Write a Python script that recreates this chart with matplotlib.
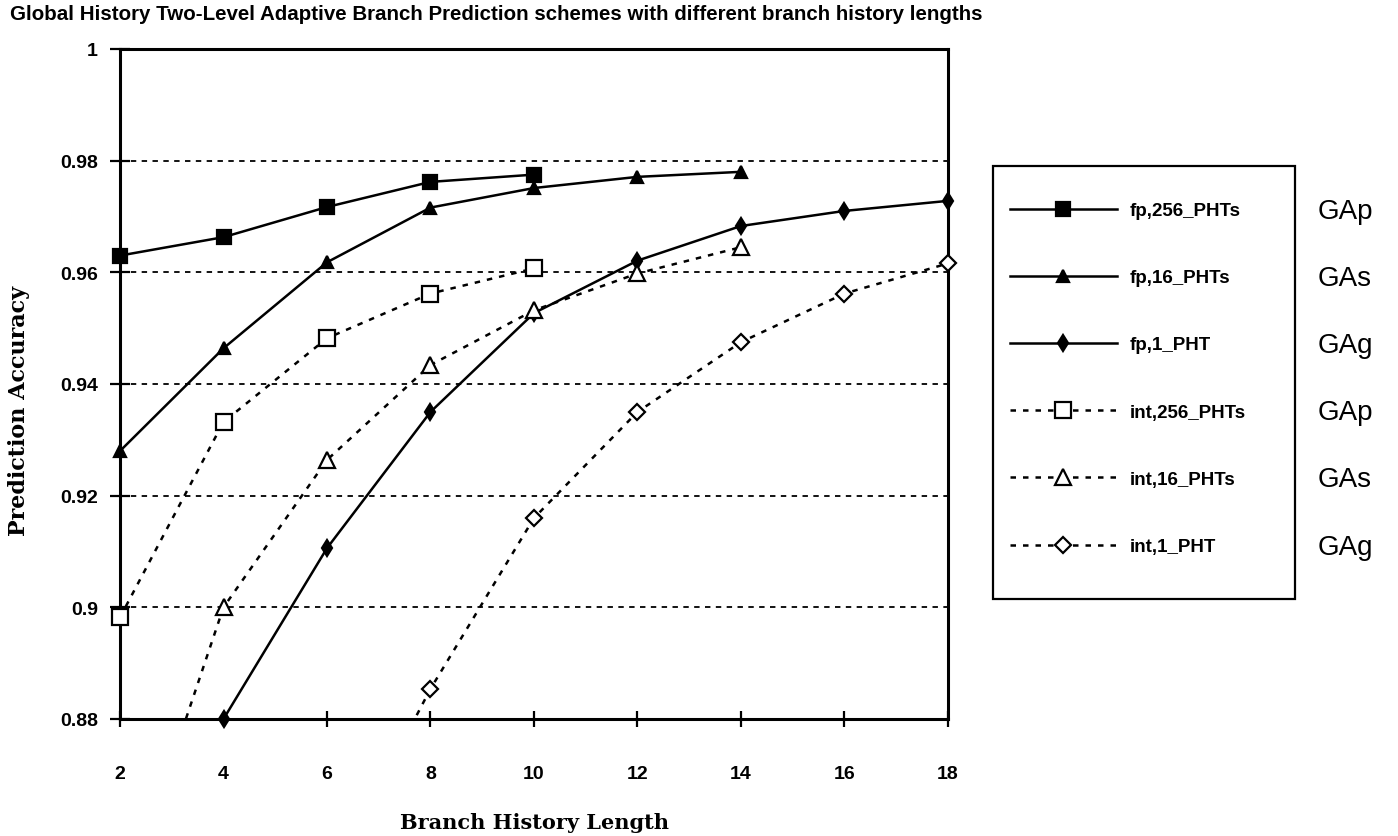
import numpy as np
import matplotlib
matplotlib.use('Agg')
import matplotlib.pyplot as plt
from matplotlib.patches import Rectangle

# historia de saltos (bits) y precisión de predicción por esquema
history = [2, 4, 6, 8, 10, 12, 14, 16, 18]
nan = np.nan
fp_256 = [0.963, 0.9663, 0.9717, 0.9762, 0.9775, nan, nan, nan, nan]
fp_16 = [0.928, 0.9464, 0.9618, 0.9716, 0.9751, 0.9771, 0.978, nan, nan]
fp_1 = [0.845, 0.880, 0.9106, 0.935, 0.9527, 0.9621, 0.9683, 0.971, 0.9728]
int_256 = [0.8982, 0.9332, 0.9482, 0.9562, 0.9607, nan, nan, nan, nan]
int_16 = [0.845, 0.900, 0.9264, 0.9434, 0.9532, 0.9598, 0.9645, nan, nan]
int_1 = [nan, nan, 0.850, 0.8854, 0.916, 0.935, 0.9475, 0.9562, 0.9616]

labels = ['fp,256_PHTs', 'fp,16_PHTs', 'fp,1_PHT',
          'int,256_PHTs', 'int,16_PHTs', 'int,1_PHT']
schemes = ['GAp', 'GAs', 'GAg', 'GAp', 'GAs', 'GAg']
yticks = [0.88, 0.90, 0.92, 0.94, 0.96, 0.98, 1.0]

sans = ['Liberation Sans', 'DejaVu Sans']
serif = ['DejaVu Serif']

fig = plt.figure(figsize=(13.98, 8.37), dpi=100)
ax = fig.add_axes([120 / 1398, 117 / 837, 828 / 1398, 670 / 837])

dots = (0, (2.2, 2.8))
styles = [
    dict(ls='-', marker='s', ms=10, mfc='black'),
    dict(ls='-', marker='^', ms=9, mfc='black'),
    dict(ls='-', marker='d', ms=8, mfc='black'),
    dict(ls=dots, marker='s', ms=11, mfc='white'),
    dict(ls=dots, marker='^', ms=11, mfc='white'),
    dict(ls=dots, marker='D', ms=8, mfc='white'),
]
series = [fp_256, fp_16, fp_1, int_256, int_16, int_1]

x = np.array(history, dtype=float)
handles = []
for ys, st, lab in zip(series, styles, labels):
    ys = np.array(ys, dtype=float)
    # la línea se recorta en el eje, los marcadores pueden quedar sobre el borde
    ax.plot(x, ys, color='black', ls=st['ls'], lw=1.8, zorder=3)
    vis = ys >= 0.88 - 1e-9
    ax.plot(x[vis], ys[vis], ls='none', marker=st['marker'], ms=st['ms'],
            mfc=st['mfc'], mec='black', mew=1.6, clip_on=False, zorder=4)
    h, = ax.plot([], [], color='black', ls=st['ls'], lw=1.8,
                 marker=st['marker'], ms=st['ms'], mfc=st['mfc'],
                 mec='black', mew=1.6)
    handles.append(h)

ax.set_xlim(2, 18)
ax.set_ylim(0.88, 1.0)
ax.set_xticks(history)
ax.set_yticks(yticks)
ax.set_yticklabels([f'{v:g}' for v in yticks])

for v in yticks[1:-1]:
    ax.axhline(v, color='black', lw=1.3, ls=(0, (3, 3)), zorder=1)

for s in ax.spines.values():
    s.set_linewidth(2.2)

ax.tick_params(axis='x', direction='inout', length=12, width=1.6, pad=27)
ax.tick_params(axis='y', direction='inout', length=14, width=1.6, pad=9)
for t in ax.get_xticklabels() + ax.get_yticklabels():
    t.set_fontfamily(sans)
    t.set_fontweight('bold')
    t.set_fontsize(14)

ax.set_xlabel('Branch History Length', family=serif,
              fontweight='bold', fontsize=15, labelpad=22)
ax.set_ylabel('Prediction Accuracy', family=serif,
              fontweight='bold', fontsize=16)
ax.yaxis.set_label_coords(-90 / 828, 0.461)

fig.text(10 / 1398, 1 - 14 / 837,
         'Global History Two-Level Adaptive Branch Prediction schemes with different branch history lengths',
         family=sans, fontweight='bold', fontsize=14.8, va='center', ha='left')

# leyenda sin marco propio; el recuadro se dibuja aparte
leg = fig.legend(handles, labels, loc='upper left',
                 bbox_to_anchor=(1010 / 1398, 1 - 203 / 837),
                 prop=dict(family=sans, weight='bold', size=13.5),
                 handlelength=5.7, labelspacing=2.67, borderpad=0,
                 handletextpad=0.7, borderaxespad=0, frameon=False)
fig.add_artist(Rectangle((993 / 1398, 1 - 600 / 837), 302 / 1398, 433 / 837,
                         transform=fig.transFigure, fill=False,
                         edgecolor='black', lw=1.6))

# etiquetas del esquema a la derecha de la leyenda
fig.canvas.draw()
inv = fig.transFigure.inverted()
for txt, name in zip(leg.get_texts(), schemes):
    bb = txt.get_window_extent()
    yc = inv.transform((0, (bb.y0 + bb.y1) / 2))[1]
    fig.text(1318 / 1398, yc, name, family='Liberation Sans',
             fontsize=20, va='center', ha='left')

fig.savefig('out.png', dpi=100)
